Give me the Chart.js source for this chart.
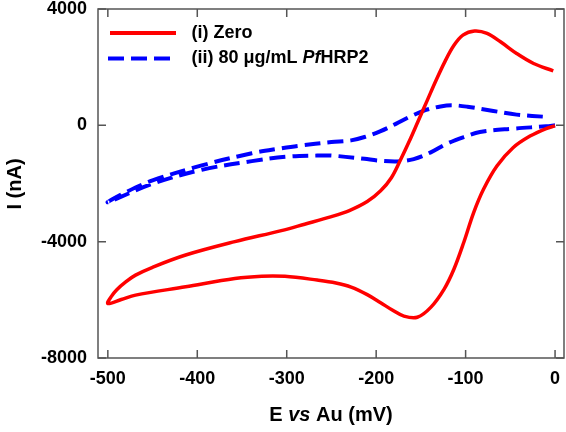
<!DOCTYPE html>
<html><head><meta charset="utf-8">
<script src="https://cdn.jsdelivr.net/npm/chart.js@4"></script>
<style>html,body{margin:0;padding:0;background:#fff}#wrap{width:566px;height:432px;position:relative}</style>
</head><body><div id="wrap"><canvas id="c" width="566" height="432"></canvas></div>
<script>
// Series (i) Zero : potential E (mV) and current I (nA), traced around the loop
const zeroE = [0, -10, -28, -47, -65, -80, -91, -102, -113, -124, -139, -154, -169, -182, -195, -210, -228, -245, -266, -302, -328, -358, -413, -469, -485, -500,
               -496, -490, -480, -469, -450, -413, -358, -306, -280, -250, -230, -210, -195, -183, -173, -163, -153, -143, -133, -123, -113, -103, -90, -76, -61, -43, -24, -2];
const zeroI = [-20, -110, -370, -770, -1400, -2200, -3000, -4020, -4940, -5630, -6260, -6600, -6560, -6350, -6100, -5820, -5560, -5420, -5320, -5190, -5185, -5264, -5551, -5838, -5990, -6127,
               -5880, -5650, -5380, -5150, -4880, -4460, -4000, -3620, -3400, -3140, -2930, -2620, -2250, -1800, -1200, -550, 150, 850, 1550, 2200, 2750, 3100, 3240, 3160, 2873, 2471, 2126, 1873];
// Series (ii) 80 ug/mL PfHRP2
const pfE = [0, -10, -47, -84, -102, -121, -139, -158, -176, -199, -213, -250, -266, -300, -339, -395, -450, -500,
             -480, -450, -395, -339, -306, -286, -250, -228, -213, -195, -178, -162, -145, -128, -115, -98, -69, -43, -8];
const pfI = [0, -34, -115, -230, -402, -632, -930, -1160, -1240, -1207, -1150, -1040, -1040, -1080, -1230, -1530, -2011, -2644,
             -2300, -1896, -1379, -960, -790, -700, -575, -517, -402, -200, 50, 300, 520, 650, 690, 640, 494, 368, 287];
const xTicks = [-500, -400, -300, -200, -100, 0];
const yTicks = [-8000, -4000, 0, 4000];
const legendLabels = [
  [['(i) Zero', 'normal']],
  [['(ii) 80 \u03bcg/mL ', 'normal'], ['Pf', 'italic'], ['HRP2', 'normal']]
];
const xTitle = [['E ', 'normal'], ['vs', 'italic'], [' Au (mV)', 'normal']];
const yTitle = 'I (nA)';

const FONT = '"Liberation Sans", Arial, sans-serif';
const RED = '#ff0000', BLUE = '#0000ff';

function pts(xs, ys) { return xs.map((x, i) => ({ x: x, y: ys[i] })); }

function drawParts(ctx, parts, x, y, size, align) {
  let total = 0;
  parts.forEach(p => { ctx.font = p[1] + ' bold ' + size + 'px ' + FONT; total += ctx.measureText(p[0]).width; });
  let cx = align === 'center' ? x - total / 2 : x;
  ctx.textAlign = 'left';
  parts.forEach(p => { ctx.font = p[1] + ' bold ' + size + 'px ' + FONT; ctx.fillText(p[0], cx, y); cx += ctx.measureText(p[0]).width; });
}

const deco = {
  id: 'deco',
  afterDraw(chart) {
    const ctx = chart.ctx, ca = chart.chartArea;
    const xs = chart.scales.x, ys = chart.scales.y;
    ctx.save();
    ctx.strokeStyle = '#555';
    ctx.lineWidth = 1.5;
    ctx.strokeRect(ca.left, ca.top, ca.right - ca.left, ca.bottom - ca.top);
    ctx.beginPath();
    xs.ticks.forEach(t => {
      const px = xs.getPixelForValue(t.value);
      ctx.moveTo(px, ca.bottom); ctx.lineTo(px, ca.bottom - 8);
      ctx.moveTo(px, ca.top); ctx.lineTo(px, ca.top + 8);
    });
    ys.ticks.forEach(t => {
      const py = ys.getPixelForValue(t.value);
      ctx.moveTo(ca.left, py); ctx.lineTo(ca.left + 8, py);
      ctx.moveTo(ca.right, py); ctx.lineTo(ca.right - 8, py);
    });
    ctx.stroke();

    // legend
    ctx.lineWidth = 4;
    ctx.strokeStyle = RED;
    ctx.beginPath(); ctx.moveTo(110, 33); ctx.lineTo(176, 33); ctx.stroke();
    ctx.strokeStyle = BLUE;
    ctx.setLineDash([16, 7]);
    ctx.beginPath(); ctx.moveTo(108, 58.5); ctx.lineTo(170, 58.5); ctx.stroke();
    ctx.setLineDash([]);
    ctx.fillStyle = '#000';
    ctx.textBaseline = 'middle';
    drawParts(ctx, legendLabels[0], 191.5, 33, 18, 'left');
    drawParts(ctx, legendLabels[1], 191.5, 58.5, 18, 'left');

    // axis titles
    ctx.textBaseline = 'alphabetic';
    drawParts(ctx, xTitle, (ca.left + ca.right) / 2, 420.5, 20, 'center');
    ctx.translate(21, 184);
    ctx.rotate(-Math.PI / 2);
    ctx.font = 'bold 20px ' + FONT;
    ctx.textAlign = 'center';
    ctx.fillText(yTitle, 0, 0);
    ctx.restore();
  }
};

const tickFont = { family: FONT, size: 18, weight: 'bold', lineHeight: 1 };

new Chart(document.getElementById('c'), {
  type: 'scatter',
  data: {
    datasets: [
      { data: pts(zeroE, zeroI), showLine: true, pointRadius: 0, borderColor: RED, borderWidth: 3.5, tension: 0.35, fill: false },
      { data: pts(pfE, pfI), showLine: true, pointRadius: 0, borderColor: BLUE, borderWidth: 4, borderDash: [16, 7], tension: 0.35, fill: false }
    ]
  },
  options: {
    responsive: false,
    animation: false,
    devicePixelRatio: 1,
    layout: { padding: { top: 9, right: 2, left: 0, bottom: 0 } },
    plugins: { legend: { display: false }, tooltip: { enabled: false } },
    scales: {
      x: {
        type: 'linear', min: -511, max: 10,
        afterBuildTicks: s => { s.ticks = xTicks.map(v => ({ value: v })); },
        afterFit: s => { s.height = 74; },
        grid: { display: false, drawTicks: true, tickLength: 12 },
        border: { display: false },
        ticks: { font: tickFont, color: '#000', padding: 0, maxRotation: 0, autoSkip: false, callback: v => String(v) }
      },
      y: {
        type: 'linear', min: -8000, max: 4000,
        afterBuildTicks: s => { s.ticks = yTicks.map(v => ({ value: v })); },
        afterFit: s => { s.width = 98; },
        grid: { display: false, drawTicks: true, tickLength: 11 },
        border: { display: false },
        ticks: { font: tickFont, color: '#000', padding: 0, autoSkip: false, callback: v => String(v) }
      }
    }
  },
  plugins: [deco]
});
</script>
</body></html>
